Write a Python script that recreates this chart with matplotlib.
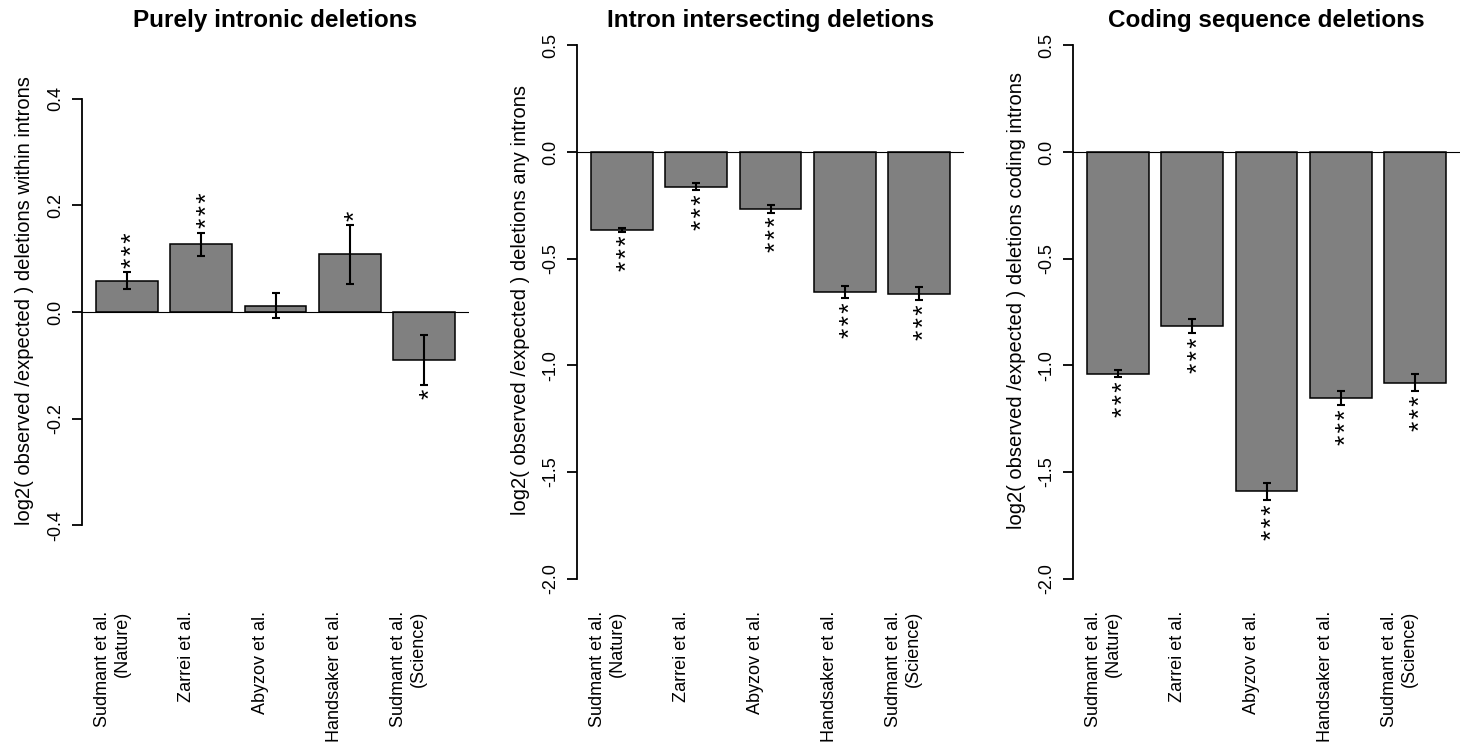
import matplotlib
matplotlib.use("Agg")
import matplotlib.pyplot as plt
from matplotlib.transforms import ScaledTranslation
import numpy as np

plt.rcParams['font.family'] = ['Liberation Sans', 'DejaVu Sans']

studies = ["Sudmant et al.\n(Nature)", "Zarrei et al.", "Abyzov et al.",
           "Handsaker et al.", "Sudmant et al.\n(Science)"]

titles = ["Purely intronic deletions", "Intron intersecting deletions",
          "Coding sequence deletions"]
ylabels = ["log2( observed /expected ) deletions within introns",
           "log2( observed /expected ) deletions any introns",
           "log2( observed /expected ) deletions coding introns"]

# log2 ratios and error half-widths
intronic_vals = [0.059, 0.127, 0.012, 0.108, -0.090]
intronic_err = [0.016, 0.022, 0.024, 0.055, 0.046]
intronic_sig = ["***", "***", "", "*", "*"]

intersect_vals = [-0.365, -0.162, -0.266, -0.657, -0.664]
intersect_err = [0.008, 0.017, 0.018, 0.029, 0.029]
intersect_sig = ["***", "***", "***", "***", "***"]

coding_vals = [-1.040, -0.817, -1.591, -1.153, -1.082]
coding_err = [0.017, 0.032, 0.041, 0.033, 0.040]
coding_sig = ["***", "***", "***", "***", "***"]

ylims = [(-0.5, 0.5), (-2.0, 0.5), (-2.0, 0.5)]
yticks = [[-0.4, -0.2, 0.0, 0.2, 0.4],
          [-2.0, -1.5, -1.0, -0.5, 0.0, 0.5],
          [-2.0, -1.5, -1.0, -0.5, 0.0, 0.5]]

panels = [(intronic_vals, intronic_err, intronic_sig),
          (intersect_vals, intersect_err, intersect_sig),
          (coding_vals, coding_err, coding_sig)]

W, H = 1462, 749
fig = plt.figure(figsize=(W / 100, H / 100), dpi=100)

lefts = [82, 577, 1073]
pw = 387
top_px, bot_px = 24, 600

# R barplot layout: width 1, space 0.2
x = 0.7 + 1.2 * np.arange(len(studies))
shift = ScaledTranslation(-15 / 100, 0, fig.dpi_scale_trans)

for k, (vals, errs, sig) in enumerate(panels):
    ax = fig.add_axes([lefts[k] / W, 1 - bot_px / H, pw / W, (bot_px - top_px) / H])
    lo, hi = ylims[k]
    pad = 0.04 * (hi - lo)
    ax.set_ylim(lo - pad, hi + pad)
    ax.set_xlim(0.2 - 0.04 * 5.8, 6.0 + 0.04 * 5.8)

    ax.bar(x, vals, width=1.0, color="#808080", edgecolor="black", linewidth=1.1, zorder=2)
    ax.axhline(0, color="black", linewidth=0.8, zorder=3)
    ax.errorbar(x, vals, yerr=errs, fmt="none", ecolor="black", elinewidth=1.5,
                capsize=3.2, capthick=1.5, zorder=4)

    for xi, v, e, s in zip(x, vals, errs, sig):
        if not s:
            continue
        s = "\u200a".join(s)
        if v >= 0:
            ax.annotate(s, (xi, v + e), xytext=(4.5, 3), textcoords="offset points",
                        rotation=90, ha="center", va="bottom", fontsize=19)
        else:
            ax.annotate(s, (xi, v - e), xytext=(4.5, -3), textcoords="offset points",
                        rotation=90, ha="center", va="top", fontsize=19)

    for side in ["top", "right", "bottom"]:
        ax.spines[side].set_visible(False)
    ax.spines["left"].set_bounds(yticks[k][0], yticks[k][-1])
    ax.spines["left"].set_linewidth(1.3)
    ax.set_yticks(yticks[k])
    ax.set_yticklabels([f"{t:.1f}" for t in yticks[k]], rotation=90, va="center")
    ax.tick_params(axis="y", length=7, width=1.3, pad=6, labelsize=13)

    ax.set_xticks(x)
    ax.set_xticklabels(studies, rotation=90, ha="center", va="top",
                       multialignment="right", fontsize=13)
    ax.tick_params(axis="x", length=0, pad=8)
    for lab in ax.get_xticklabels():
        lab.set_transform(lab.get_transform() + shift)

    ax.text(-57 / pw, 0.52, ylabels[k], transform=ax.transAxes, rotation=90,
            ha="center", va="center", fontsize=14.5)
    fig.text((lefts[k] + pw / 2) / W, 1 - 27 / H, titles[k], ha="center",
             va="baseline", fontsize=17.5, fontweight="bold")

fig.savefig("out.png", dpi=100)
